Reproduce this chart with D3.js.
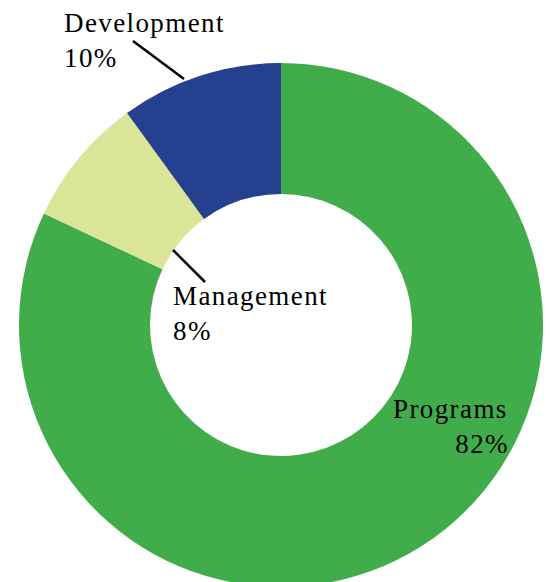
<!DOCTYPE html>
<html><head><meta charset="utf-8">
<script src="https://cdn.jsdelivr.net/npm/d3@7"></script>
<style>body{margin:0;background:#fff}svg{display:block}</style>
</head><body>
<svg id="c" width="550" height="582"></svg>
<script>
const categories = ["Programs", "Management", "Development"];
const values = [82, 8, 10];
const colors = ["#41ad4a", "#dae597", "#25408f"];

const W = 550, H = 582, cx = 281, cy = 325, R = 262, r = 131;
const svg = d3.select("#c");
const g = svg.append("g").attr("transform", `translate(${cx},${cy})`);

const pie = d3.pie().sort(null).value(d => d.v);
const data = pie(categories.map((c, i) => ({c, v: values[i], col: colors[i]})));
const arc = d3.arc().innerRadius(r).outerRadius(R);

g.selectAll("path").data(data).enter().append("path")
  .attr("d", arc).attr("fill", d => d.data.col);

// label layout (relative to center)
const labels = {
  "Development": {x: -217, y: -293, anchor: "start", line: [[-148, -284], [-97, -246]]},
  "Management": {x: -108, y: -20, anchor: "start", line: [[-108, -75], [-76, -43]]},
  "Programs": {x: 112, y: 93, anchor: "start", pctAnchor: "end", pctX: 228}
};
const font = "'Liberation Serif', serif";
data.forEach(d => {
  const L = labels[d.data.c];
  if (L.line) {
    g.append("line").attr("x1", L.line[0][0]).attr("y1", L.line[0][1])
      .attr("x2", L.line[1][0]).attr("y2", L.line[1][1])
      .attr("stroke", "#000").attr("stroke-width", 2.5);
  }
  g.append("text").attr("x", L.x).attr("y", L.y)
    .attr("font-family", font).attr("font-size", 27).attr("letter-spacing", 1.4).attr("fill", "#000")
    .attr("text-anchor", L.anchor).text(d.data.c);
  g.append("text").attr("x", L.pctX !== undefined ? L.pctX : L.x).attr("y", L.y + 35)
    .attr("font-family", font).attr("font-size", 27).attr("letter-spacing", 1.4).attr("fill", "#000")
    .attr("text-anchor", L.pctAnchor || L.anchor).text(d.data.v + "%");
});
</script>
</body></html>
